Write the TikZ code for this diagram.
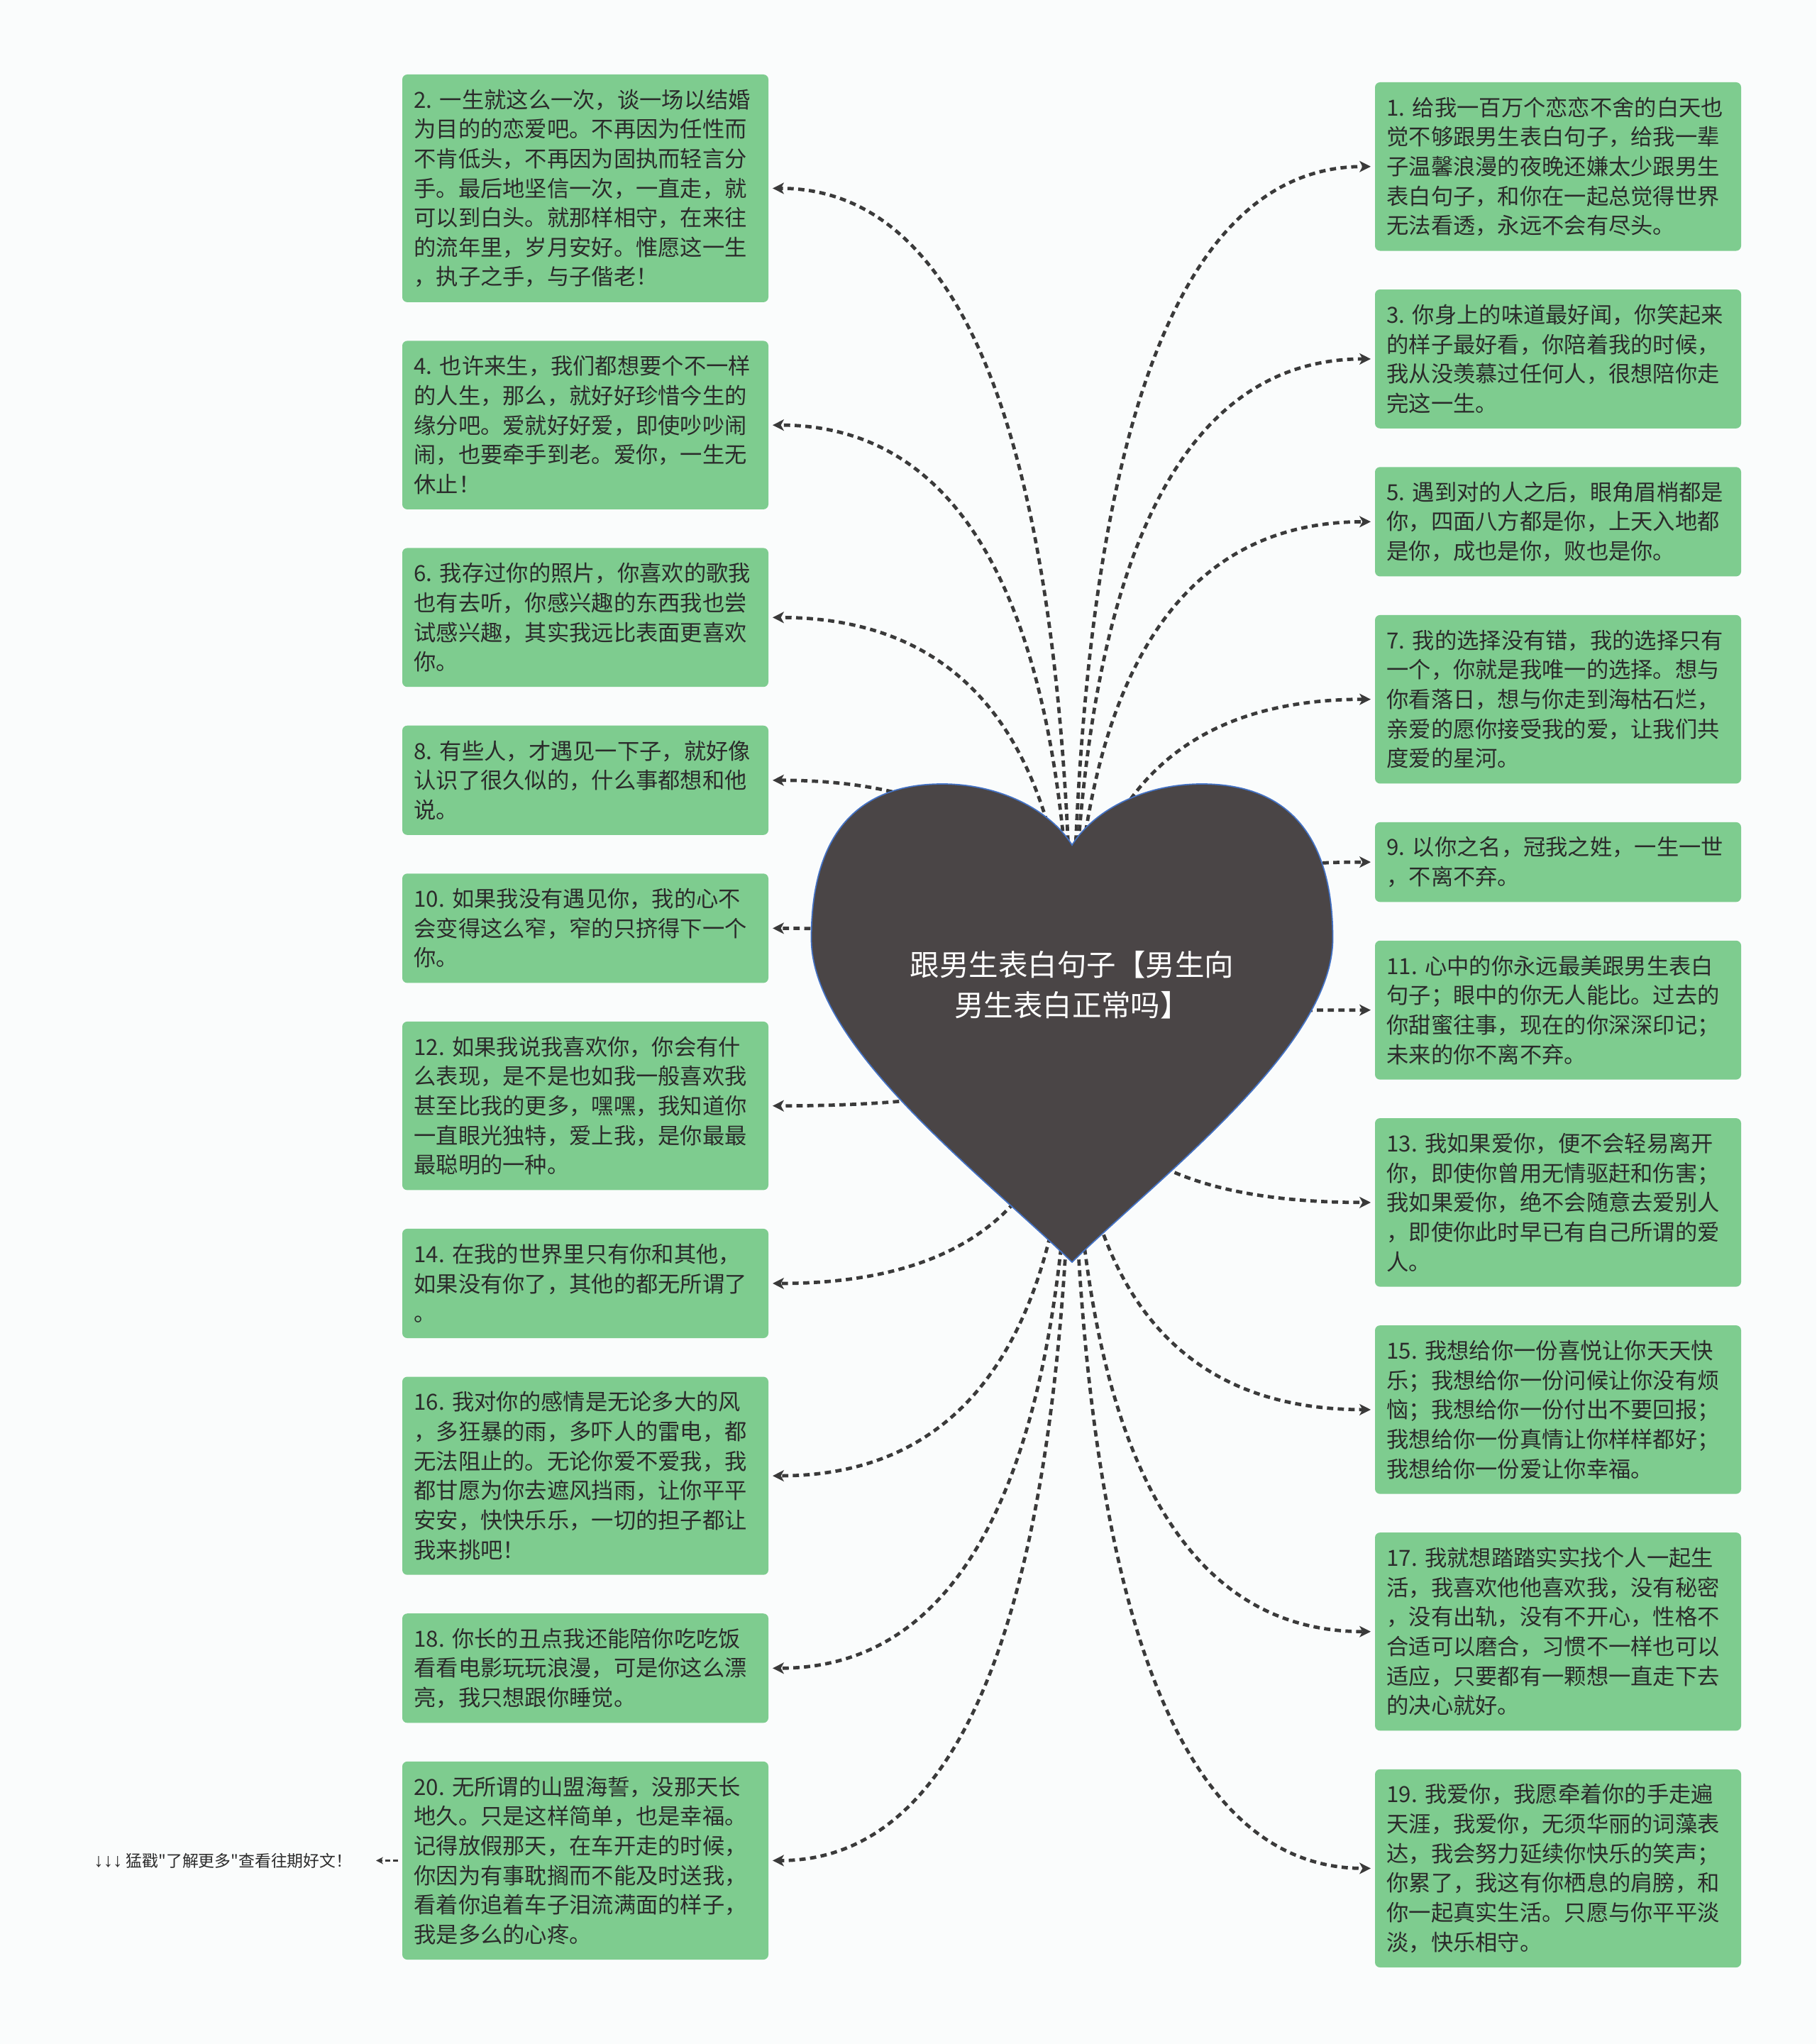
\documentclass[tikz,border=0pt]{standalone}
\usepackage{fontspec}
\usepackage{tikz}
\usetikzlibrary{arrows.meta, positioning, calc}
\newfontfamily\cjk{Noto Sans CJK SC}
\newfontfamily\arrowfont{Liberation Sans}
\definecolor{pagebg}{HTML}{FAFCFC}
\definecolor{cardfill}{HTML}{7ECC8F}
\definecolor{cardtext}{HTML}{2B2B2B}
\definecolor{heartfill}{HTML}{4A4546}
\definecolor{heartline}{HTML}{4472C4}
\definecolor{linkgray}{HTML}{3A3A3A}
\tikzset{
  card/.style={
    rectangle, rounded corners=2pt,
    text width=4.83cm, inner xsep=0.165cm, inner ysep=0.1cm,
    outer xsep=0.06cm, outer ysep=0pt,
    align=left, fill=cardfill, text=cardtext,
    font=\cjk\fontsize{8.9}{11.85}\selectfont,
  },
  rows/.style={minimum height={0.417cm*#1+0.29cm}},
  hubtext/.style={
    align=center, text=white, inner sep=0pt,
    font=\cjk\fontsize{11.8}{16.2}\selectfont,
  },
  note/.style={
    inner sep=0pt, text=cardtext,
    font=\cjk\fontsize{6.5}{8}\selectfont,
  },
  link/.style={
    -{Stealth[length=4.5pt,width=4.5pt,inset=1.2pt]},
    line width=1.35pt, color=linkgray, dash pattern=on 2.5pt off 1.8pt,
    to path={.. controls ($(\tikztostart)!2/3!(\tikztostart |- \tikztotarget)$)
      and ($(\tikztotarget)!2/3!(\tikztostart |- \tikztotarget)$) .. (\tikztotarget)},
  },
  morelink/.style={
    -{Stealth[length=2.8pt,width=2.8pt,inset=0.8pt]},
    line width=0.6pt, color=linkgray, dash pattern=on 2pt off 1.2pt,
    shorten >=0.33cm,
  },
}

\begin{document}
\begin{tikzpicture}
  \fill[pagebg, use as bounding box] (0,0) rectangle (25.6,-28.81);
  \coordinate (hc) at (15.11,-14.43);

  \node[card,rows=7,anchor=north west] (b2) at (5.61,-1.05) {2.~一生就这么一次，谈一场以结婚\\为目的的恋爱吧。不再因为任性而\\不肯低头，不再因为固执而轻言分\\手。最后地坚信一次，一直走，就\\可以到白头。就那样相守，在来往\\的流年里，岁月安好。惟愿这一生\\，执子之手，与子偕老！};
  \node[card,rows=5,below=0.545cm of b2] (b4) {4.~也许来生，我们都想要个不一样\\的人生，那么，就好好珍惜今生的\\缘分吧。爱就好好爱，即使吵吵闹\\闹，也要牵手到老。爱你，一生无\\休止！};
  \node[card,rows=4,below=0.545cm of b4] (b6) {6.~我存过你的照片，你喜欢的歌我\\也有去听，你感兴趣的东西我也尝\\试感兴趣，其实我远比表面更喜欢\\你。};
  \node[card,rows=3,below=0.545cm of b6] (b8) {8.~有些人，才遇见一下子，就好像\\认识了很久似的，什么事都想和他\\说。};
  \node[card,rows=3,below=0.545cm of b8] (b10) {10.~如果我没有遇见你，我的心不\\会变得这么窄，窄的只挤得下一个\\你。};
  \node[card,rows=5,below=0.545cm of b10] (b12) {12.~如果我说我喜欢你，你会有什\\么表现，是不是也如我一般喜欢我\\甚至比我的更多，嘿嘿，我知道你\\一直眼光独特，爱上我，是你最最\\最聪明的一种。};
  \node[card,rows=3,below=0.545cm of b12] (b14) {14.~在我的世界里只有你和其他，\\如果没有你了，其他的都无所谓了\\。};
  \node[card,rows=6,below=0.545cm of b14] (b16) {16.~我对你的感情是无论多大的风\\，多狂暴的雨，多吓人的雷电，都\\无法阻止的。无论你爱不爱我，我\\都甘愿为你去遮风挡雨，让你平平\\安安，快快乐乐，一切的担子都让\\我来挑吧！};
  \node[card,rows=3,below=0.545cm of b16] (b18) {18.~你长的丑点我还能陪你吃吃饭\\看看电影玩玩浪漫，可是你这么漂\\亮，我只想跟你睡觉。};
  \node[card,rows=6,below=0.545cm of b18] (b20) {20.~无所谓的山盟海誓，没那天长\\地久。只是这样简单，也是幸福。\\记得放假那天，在车开走的时候，\\你因为有事耽搁而不能及时送我，\\看着你追着车子泪流满面的样子，\\我是多么的心疼。};

  \node[card,rows=5,anchor=north west] (b1) at (19.32,-1.16) {1.~给我一百万个恋恋不舍的白天也\\觉不够跟男生表白句子，给我一辈\\子温馨浪漫的夜晚还嫌太少跟男生\\表白句子，和你在一起总觉得世界\\无法看透，永远不会有尽头。};
  \node[card,rows=4,below=0.545cm of b1] (b3) {3.~你身上的味道最好闻，你笑起来\\的样子最好看，你陪着我的时候，\\我从没羡慕过任何人，很想陪你走\\完这一生。};
  \node[card,rows=3,below=0.545cm of b3] (b5) {5.~遇到对的人之后，眼角眉梢都是\\你，四面八方都是你，上天入地都\\是你，成也是你，败也是你。};
  \node[card,rows=5,below=0.545cm of b5] (b7) {7.~我的选择没有错，我的选择只有\\一个，你就是我唯一的选择。想与\\你看落日，想与你走到海枯石烂，\\亲爱的愿你接受我的爱，让我们共\\度爱的星河。};
  \node[card,rows=2,below=0.545cm of b7] (b9) {9.~以你之名，冠我之姓，一生一世\\，不离不弃。};
  \node[card,rows=4,below=0.545cm of b9] (b11) {11.~心中的你永远最美跟男生表白\\句子；眼中的你无人能比。过去的\\你甜蜜往事，现在的你深深印记；\\未来的你不离不弃。};
  \node[card,rows=5,below=0.545cm of b11] (b13) {13.~我如果爱你，便不会轻易离开\\你，即使你曾用无情驱赶和伤害；\\我如果爱你，绝不会随意去爱别人\\，即使你此时早已有自己所谓的爱\\人。};
  \node[card,rows=5,below=0.545cm of b13] (b15) {15.~我想给你一份喜悦让你天天快\\乐；我想给你一份问候让你没有烦\\恼；我想给你一份付出不要回报；\\我想给你一份真情让你样样都好；\\我想给你一份爱让你幸福。};
  \node[card,rows=6,below=0.545cm of b15] (b17) {17.~我就想踏踏实实找个人一起生\\活，我喜欢他他喜欢我，没有秘密\\，没有出轨，没有不开心，性格不\\合适可以磨合，习惯不一样也可以\\适应，只要都有一颗想一直走下去\\的决心就好。};
  \node[card,rows=6,below=0.545cm of b17] (b19) {19.~我爱你，我愿牵着你的手走遍\\天涯，我爱你，无须华丽的词藻表\\达，我会努力延续你快乐的笑声；\\你累了，我这有你栖息的肩膀，和\\你一起真实生活。只愿与你平平淡\\淡，快乐相守。};

  \draw[link] (hc) to (b2.east);
  \draw[link] (hc) to (b4.east);
  \draw[link] (hc) to (b6.east);
  \draw[link] (hc) to (b8.east);
  \draw[link] (hc) to (b10.east);
  \draw[link] (hc) to (b12.east);
  \draw[link] (hc) to (b14.east);
  \draw[link] (hc) to (b16.east);
  \draw[link] (hc) to (b18.east);
  \draw[link] (hc) to (b20.east);
  \draw[link] (hc) to (b1.west);
  \draw[link] (hc) to (b3.west);
  \draw[link] (hc) to (b5.west);
  \draw[link] (hc) to (b7.west);
  \draw[link] (hc) to (b9.west);
  \draw[link] (hc) to (b11.west);
  \draw[link] (hc) to (b13.west);
  \draw[link] (hc) to (b15.west);
  \draw[link] (hc) to (b17.west);
  \draw[link] (hc) to (b19.west);

  \begin{scope}[shift={(hc)}]
    \filldraw[fill=heartfill, draw=heartline, line width=0.5pt]
      (0,-3.36) .. controls (1.3,-2.1) and (3.675,-0.3) .. (3.675,1.2)
      .. controls (3.675,2.7) and (3.0,3.38) .. (1.83,3.38)
      .. controls (1.0,3.38) and (0.3,3.0) .. (0,2.52)
      .. controls (-0.3,3.0) and (-1.0,3.38) .. (-1.83,3.38)
      .. controls (-3.0,3.38) and (-3.675,2.7) .. (-3.675,1.2)
      .. controls (-3.675,-0.3) and (-1.3,-2.1) .. (0,-3.36) -- cycle;
  \end{scope}
  \node[hubtext] (hub) at (15.11,-13.88) {跟男生表白句子【男生向\\男生表白正常吗】};

  \node[note,left=0.64cm of b20] (more) {{\arrowfont\fontsize{7.6}{8}\selectfont ↓↓↓} 猛戳"了解更多"查看往期好文！};
  \draw[morelink] (b20.west) -- (more.east);
\end{tikzpicture}
\end{document}
